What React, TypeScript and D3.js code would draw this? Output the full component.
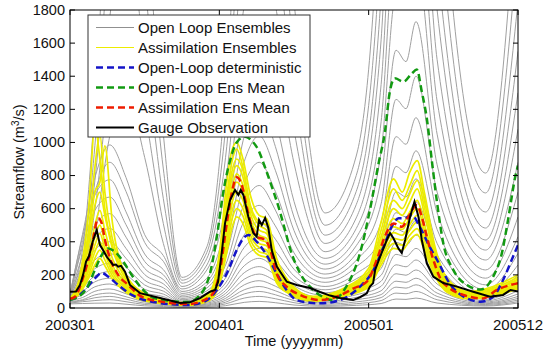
import React from 'react';
import * as d3 from 'd3';

// time axis in months since 2003-01-01 (36 = end of 200512)
const xTickMonths = [0, 12, 24, 36];
const xTickLabels = ['200301', '200401', '200501', '200512'];
const yTicks = [0, 200, 400, 600, 800, 1000, 1200, 1400, 1600, 1800];

// open loop ensemble members
const grayMonths = [0, 1, 2, 3.2, 4.5, 6, 7.5, 9, 11, 12.5, 14, 15.2, 16.5, 18, 20.5, 23, 25, 26.2, 27, 27.8, 29.5, 33.4, 36];
const openLoopEnsembles = [
  [25, 27, 29, 30, 23, 13, 9, 3, 5, 14, 34, 40, 32, 18, 10, 16, 27, 54, 52, 60, 30, 12, 30],
  [30, 38, 45, 50, 38, 21, 15, 5, 9, 25, 60, 70, 56, 32, 16, 26, 45, 90, 86, 100, 50, 16, 38],
  [35, 45, 62, 70, 53, 29, 22, 8, 14, 35, 85, 100, 80, 45, 23, 37, 63, 126, 120, 140, 70, 21, 48],
  [40, 50, 79, 90, 68, 38, 28, 10, 18, 46, 110, 130, 104, 59, 31, 50, 81, 162, 155, 180, 90, 26, 58],
  [45, 63, 101, 115, 86, 48, 36, 13, 23, 58, 140, 165, 132, 74, 40, 64, 104, 207, 198, 230, 115, 31, 70],
  [50, 80, 128, 145, 109, 61, 45, 16, 29, 72, 174, 205, 164, 92, 50, 80, 131, 261, 249, 290, 145, 37, 85],
  [55, 99, 158, 180, 135, 76, 56, 20, 36, 88, 213, 250, 200, 113, 62, 99, 162, 324, 310, 360, 180, 44, 105],
  [58, 121, 194, 220, 165, 92, 69, 25, 45, 105, 255, 300, 240, 135, 76, 122, 198, 396, 378, 440, 220, 52, 130],
  [62, 149, 238, 270, 203, 113, 84, 30, 54, 126, 306, 360, 288, 162, 92, 147, 239, 477, 456, 530, 265, 62, 160],
  [65, 182, 290, 330, 248, 139, 102, 36, 65, 151, 366, 430, 344, 194, 110, 176, 288, 576, 550, 640, 320, 75, 200],
  [68, 220, 352, 400, 300, 168, 122, 42, 76, 182, 442, 520, 416, 234, 130, 208, 351, 702, 671, 780, 390, 90, 260],
  [72, 264, 422, 480, 360, 202, 146, 50, 90, 217, 527, 620, 496, 279, 155, 248, 428, 855, 817, 950, 475, 110, 330],
  [75, 314, 502, 570, 428, 239, 172, 58, 104, 259, 629, 740, 592, 333, 180, 288, 518, 1035, 989, 1150, 575, 140, 430],
  [78, 369, 590, 670, 503, 281, 201, 67, 121, 308, 748, 880, 704, 396, 205, 328, 630, 1260, 1204, 1400, 700, 180, 550],
  [80, 426, 682, 775, 581, 326, 232, 77, 139, 364, 884, 1040, 832, 468, 235, 376, 779, 1557, 1488, 1730, 865, 230, 700],
  [82, 396, 704, 880, 704, 396, 282, 88, 158, 427, 1037, 1220, 976, 549, 265, 424, 945, 1890, 1806, 2100, 1050, 290, 880],
  [85, 443, 788, 985, 788, 443, 317, 100, 180, 500, 1216, 1430, 1144, 644, 300, 480, 1125, 2250, 2150, 2500, 1250, 350, 1080],
  [88, 130, 455, 1040, 1300, 910, 390, 115, 230, 613, 1488, 1750, 1488, 875, 340, 544, 1350, 2700, 2580, 3000, 1500, 411, 1300],
  [90, 170, 595, 1360, 1700, 1190, 510, 130, 260, 753, 1828, 2150, 1828, 1075, 390, 624, 1620, 3240, 3096, 3600, 1800, 483, 1550],
  [92, 220, 770, 1760, 2200, 1540, 660, 150, 300, 910, 2210, 2600, 2210, 1300, 440, 704, 1890, 3780, 3612, 4200, 2100, 580, 1850],
  [95, 280, 980, 2240, 2800, 1960, 840, 168, 336, 1085, 2635, 3100, 2635, 1550, 500, 800, 2250, 4500, 4300, 5000, 2500, 695, 2200],
  [98, 350, 1225, 2800, 3500, 2450, 1050, 185, 370, 1295, 3145, 3700, 3145, 1850, 574, 918, 2700, 5400, 5160, 6000, 3000, 815, 2600],
];

// assimilation ensemble members
const assimMonths = [0, 0.8, 1.5, 2.0, 2.4, 2.8, 3.4, 4.2, 5.5, 7.5, 9.5, 11.2, 12.0, 12.6, 13.0, 13.4, 13.9, 14.5, 15.2, 15.8, 16.6, 17.6, 19.5, 22, 24, 25, 26, 26.7, 27.3, 27.9, 28.5, 29.3, 30.3, 32, 34, 36];
const assimEnsembles = [
  [50, 200, 600, 1100, 900, 600, 380, 230, 110, 50, 30, 90, 330, 760, 950, 1000, 900, 680, 560, 540, 300, 160, 70, 120, 240, 520, 780, 700, 820, 890, 690, 380, 180, 100, 130, 200],
  [52, 180, 480, 850, 1050, 700, 420, 250, 105, 45, 28, 80, 290, 680, 880, 960, 850, 620, 520, 500, 270, 150, 65, 115, 220, 470, 720, 650, 740, 830, 640, 350, 165, 95, 120, 185],
  [55, 170, 420, 700, 760, 980, 520, 240, 100, 44, 27, 78, 260, 620, 820, 900, 830, 600, 500, 470, 250, 140, 62, 110, 205, 430, 650, 600, 690, 770, 600, 330, 155, 90, 112, 175],
  [56, 160, 380, 620, 700, 560, 360, 210, 95, 42, 26, 74, 240, 580, 780, 860, 790, 570, 470, 450, 235, 132, 60, 104, 192, 400, 600, 560, 640, 720, 560, 310, 145, 85, 106, 168],
  [55, 145, 320, 500, 590, 470, 300, 190, 86, 38, 25, 68, 220, 530, 720, 810, 740, 535, 440, 420, 215, 124, 56, 97, 176, 370, 540, 510, 580, 650, 500, 285, 135, 78, 98, 155],
  [54, 130, 280, 430, 500, 400, 260, 170, 78, 36, 23, 63, 200, 490, 680, 760, 700, 505, 415, 395, 200, 116, 53, 92, 165, 345, 490, 475, 545, 600, 465, 262, 126, 73, 92, 146],
  [53, 120, 250, 380, 450, 360, 235, 155, 72, 33, 22, 58, 185, 450, 630, 700, 650, 470, 390, 375, 190, 108, 50, 87, 155, 320, 455, 440, 505, 560, 430, 245, 118, 68, 87, 138],
  [52, 110, 225, 340, 400, 330, 215, 140, 66, 31, 20, 54, 170, 410, 580, 650, 600, 440, 365, 350, 178, 100, 47, 82, 145, 300, 420, 410, 470, 520, 400, 228, 110, 64, 82, 130],
  [50, 100, 200, 300, 350, 290, 195, 125, 60, 28, 18, 50, 155, 370, 530, 600, 555, 410, 340, 325, 165, 93, 44, 77, 135, 280, 390, 380, 440, 480, 370, 212, 102, 60, 77, 122],
  [48, 90, 180, 260, 300, 255, 175, 112, 55, 26, 17, 46, 140, 335, 480, 550, 510, 380, 318, 305, 152, 86, 41, 72, 125, 260, 360, 350, 410, 445, 345, 198, 95, 56, 72, 115],
];

// open-loop deterministic run
const detMonths = [0, 0.4, 1.2, 2.0, 2.55, 3.08, 3.88, 4.96, 6.57, 9.49, 10.85, 11.8, 12.6, 13.4, 13.93, 14.33, 15.0, 15.8, 16.6, 17.4, 18.2, 19.5, 20.1, 21.7, 23.3, 24.4, 25.2, 26.0, 26.4, 26.9, 27.47, 28.1, 28.9, 29.5, 30.5, 31.9, 33.0, 34.0, 34.8, 35.6, 36];
const detValues = [50, 60, 109, 179, 212, 189, 139, 79, 38, 18, 40, 109, 209, 350, 421, 441, 401, 320, 209, 109, 48, 30, 28, 48, 129, 230, 370, 511, 542, 542, 562, 491, 370, 290, 149, 58, 38, 68, 169, 310, 380];

// open-loop ensemble mean
const olMeanMonths = [0, 0.4, 1.34, 2.0, 2.55, 3.08, 3.6, 4.28, 4.96, 5.76, 6.83, 9.49, 10.45, 11.0, 11.25, 11.8, 12.3, 12.86, 13.4, 14.07, 14.6, 15.1, 15.67, 16.23, 16.8, 17.28, 17.68, 18.5, 19.53, 20.3, 21.1, 22.2, 23.3, 24.1, 24.8, 25.3, 25.7, 26.1, 26.8, 27.47, 27.87, 28.27, 28.67, 29.1, 29.5, 30.0, 30.8, 31.9, 33.0, 34.0, 34.7, 35.2, 35.8, 36];
const olMeanValues = [50, 58, 119, 230, 320, 360, 340, 280, 199, 119, 58, 36, 79, 149, 209, 431, 693, 890, 1000, 1035, 1010, 960, 850, 730, 600, 470, 360, 209, 110, 68, 48, 129, 330, 592, 874, 1060, 1306, 1387, 1367, 1417, 1440, 1306, 1146, 875, 634, 390, 230, 139, 112, 189, 330, 532, 800, 860];

// assimilation ensemble mean
const daMeanMonths = [0, 0.4, 1.07, 1.74, 2.27, 2.55, 2.81, 3.22, 3.88, 4.69, 5.76, 7.37, 9.49, 11.25, 12.06, 12.6, 13.0, 13.4, 13.8, 14.2, 14.6, 15.0, 15.7, 16.1, 16.6, 17.4, 18.5, 20.1, 21.4, 22.8, 23.85, 24.65, 25.3, 26.0, 26.66, 27.2, 27.87, 28.27, 28.67, 29.2, 29.75, 30.5, 31.6, 33.2, 34.3, 35.4, 36];
const daMeanValues = [55, 68, 189, 370, 542, 511, 411, 300, 199, 139, 68, 38, 24, 68, 230, 513, 695, 790, 743, 612, 491, 431, 411, 350, 209, 129, 79, 48, 68, 119, 159, 290, 431, 511, 491, 551, 622, 551, 431, 290, 180, 120, 79, 58, 109, 139, 150];

// gauge observation
const obsMonths = [0, 0.48, 0.8, 1.05, 1.29, 1.53, 1.82, 2.15, 2.41, 2.65, 2.97, 3.46, 3.7, 3.86, 4.1, 4.42, 4.82, 5.63, 7.23, 8.84, 9.65, 10.45, 11.25, 11.66, 11.9, 12.19, 12.46, 12.86, 13.26, 13.53, 13.72, 13.93, 14.33, 14.73, 15.0, 15.19, 15.41, 15.68, 15.94, 16.21, 16.62, 17.42, 18.22, 19.29, 20.1, 20.9, 21.7, 22.75, 23.3, 23.85, 24.1, 24.36, 24.52, 24.92, 25.46, 25.72, 25.99, 26.39, 26.66, 26.93, 27.33, 27.68, 28.0, 28.27, 28.67, 29.2, 30.0, 31.1, 32.4, 33.76, 34.8, 35.4, 36];
const obsValues = [98, 100, 139, 200, 280, 314, 400, 471, 380, 350, 308, 260, 262, 250, 255, 219, 139, 90, 60, 30, 35, 60, 98, 109, 159, 332, 513, 652, 713, 683, 713, 683, 551, 453, 431, 532, 501, 544, 483, 350, 250, 159, 139, 121, 97, 75, 60, 48, 65, 89, 129, 150, 230, 310, 411, 453, 421, 360, 332, 411, 551, 642, 551, 411, 270, 189, 151, 129, 98, 68, 79, 109, 100];

const GRAY = '#a0a0a0';
const YELLOW = '#ecec00';
const BLUE = '#1414c8';
const GREEN = '#129a12';
const RED = '#ee1c00';

const legendItems = [
  { label: 'Open Loop Ensembles', color: '#909090', width: 1, dash: undefined },
  { label: 'Assimilation Ensembles', color: YELLOW, width: 1.2, dash: undefined },
  { label: 'Open-Loop deterministic', color: BLUE, width: 2.5, dash: '7,4' },
  { label: 'Open-Loop Ens Mean', color: GREEN, width: 2.5, dash: '7,4' },
  { label: 'Assimilation Ens Mean', color: RED, width: 2.5, dash: '7,4' },
  { label: 'Gauge Observation', color: '#000', width: 2, dash: undefined },
];

const FONT = '"Liberation Sans", Arial, sans-serif';

export default function App() {
  const left = 70, right = 518, top = 10, bottom = 308;
  const x = d3.scaleLinear().domain([0, 36]).range([left, right]);
  const y = d3.scaleLinear().domain([0, 1800]).range([bottom, top]);

  const path = (months: number[], values: number[], curve: d3.CurveFactory) =>
    d3.line<number>()
      .x((_, i) => x(months[i]))
      .y((d) => y(d))
      .curve(curve)(values) || '';

  return (
    <svg width={544} height={356} style={{ position: 'absolute', left: 0, top: 0, background: '#fff' }} fontFamily={FONT}>
      <defs>
        <clipPath id="plot">
          <rect x={left} y={top} width={right - left} height={bottom - top} />
        </clipPath>
      </defs>
      <rect x={0} y={0} width={544} height={356} fill="#fff" />

      <g clipPath="url(#plot)" fill="none">
        {openLoopEnsembles.map((m, i) => (
          <path key={'g' + i} d={path(grayMonths, m, d3.curveMonotoneX)} stroke={GRAY} strokeWidth={1} />
        ))}
        {assimEnsembles.map((m, i) => (
          <path key={'y' + i} d={path(assimMonths, m, d3.curveMonotoneX)} stroke={YELLOW} strokeWidth={1.7} />
        ))}
        <path d={path(detMonths, detValues, d3.curveMonotoneX)} stroke={BLUE} strokeWidth={2.5} strokeDasharray="7,4" />
        <path d={path(olMeanMonths, olMeanValues, d3.curveMonotoneX)} stroke={GREEN} strokeWidth={2.5} strokeDasharray="7,4" />
        <path d={path(daMeanMonths, daMeanValues, d3.curveMonotoneX)} stroke={RED} strokeWidth={2.5} strokeDasharray="7,4" />
        <path d={path(obsMonths, obsValues, d3.curveLinear)} stroke="#000" strokeWidth={2} />
      </g>

      {/* axes box */}
      <rect x={left} y={top} width={right - left} height={bottom - top} fill="none" stroke="#000" strokeWidth={1} />
      {yTicks.map((t) => (
        <g key={'yt' + t}>
          <line x1={left} x2={left + 5} y1={y(t)} y2={y(t)} stroke="#000" />
          <line x1={right - 5} x2={right} y1={y(t)} y2={y(t)} stroke="#000" />
          <text x={left - 5} y={y(t)} dy="0.33em" textAnchor="end" fontSize={14.5} fill="#111">{t}</text>
        </g>
      ))}
      {xTickMonths.map((t, i) => (
        <g key={'xt' + t}>
          <line x1={x(t)} x2={x(t)} y1={bottom} y2={bottom - 5} stroke="#000" />
          <line x1={x(t)} x2={x(t)} y1={top} y2={top + 5} stroke="#000" />
          <text x={x(t)} y={bottom + 22} textAnchor="middle" fontSize={15} fill="#111">{xTickLabels[i]}</text>
        </g>
      ))}
      <text x={(left + right) / 2} y={346} textAnchor="middle" fontSize={14.5} fill="#111">Time (yyyymm)</text>
      <text transform={`translate(24,162) rotate(-90)`} textAnchor="middle" fontSize={14.5} fill="#111">
        Streamflow (m<tspan dy={-5} fontSize={10}>3</tspan><tspan dy={5}>/s)</tspan>
      </text>

      {/* legend */}
      <rect x={88} y={15} width={222} height={122} fill="#fff" stroke="#333" strokeWidth={1} />
      {legendItems.map((d, i) => {
        const ly = 27.5 + i * 20;
        return (
          <g key={d.label}>
            <line x1={96} x2={134} y1={ly} y2={ly} stroke={d.color} strokeWidth={d.width} strokeDasharray={d.dash} />
            <text x={138} y={ly} dy="0.36em" fontSize={15} fill="#111">{d.label}</text>
          </g>
        );
      })}
    </svg>
  );
}
